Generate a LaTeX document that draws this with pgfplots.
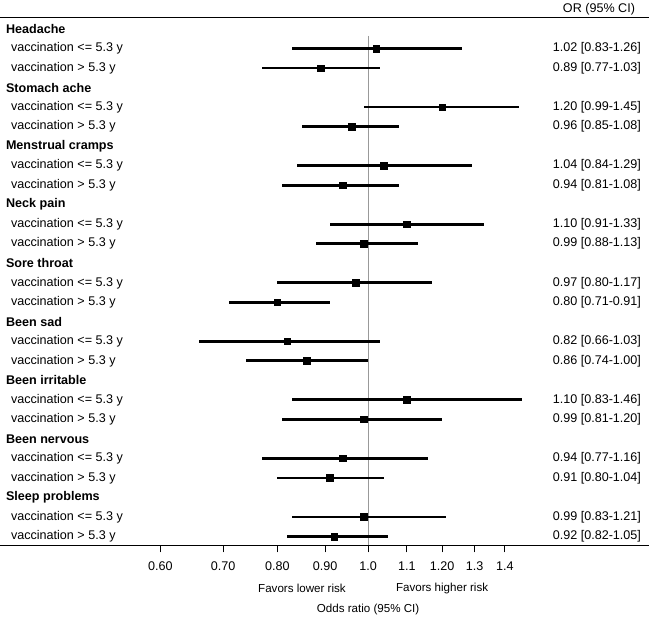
\documentclass[border=0pt]{standalone}
\usepackage{fontspec}
\setmainfont{Liberation Sans}
\usepackage{pgfplots}
\usepackage{pgfplotstable}
\pgfplotsset{compat=1.18}

% row (0 = first heading, rows run downwards), odds ratio, CI bounds
\pgfplotstableread{
row or lo hi
1 1.02 0.83 1.26
2 0.89 0.77 1.03
4 1.20 0.99 1.45
5 0.96 0.85 1.08
7 1.04 0.84 1.29
8 0.94 0.81 1.08
10 1.10 0.91 1.33
11 0.99 0.88 1.13
13 0.97 0.80 1.17
14 0.80 0.71 0.91
16 0.82 0.66 1.03
17 0.86 0.74 1.00
19 1.10 0.83 1.46
20 0.99 0.81 1.20
22 0.94 0.77 1.16
23 0.91 0.80 1.04
25 0.99 0.83 1.21
26 0.92 0.82 1.05
}\ORdata

\newcommand{\fs}{\fontsize{12.6}{15}\selectfont}
\newcommand{\fss}{\fontsize{11.6}{14}\selectfont}

\begin{document}
\begin{tikzpicture}
\begin{axis}[
    scale only axis,
    width=649pt, height=529pt,
    xmode=log,
    xmin=0.4048, xmax=1.994,
    ymin=-0.61, ymax=26.46,
    y dir=reverse,
    clip=false,
    axis x line*=bottom,
    axis y line=none,
    axis line style={line width=1pt},
    xtick={0.6,0.7,0.8,0.9,1.0,1.1,1.2,1.3,1.4},
    xticklabels={0.60,0.70,0.80,0.90,1.0,1.1,1.20,1.3,1.4},
    minor xtick={},
    tick align=outside,
    major tick length=7pt,
    tick style={line width=1pt,black},
    xticklabel style={font=\fs, yshift=-6pt},
    ytick=\empty,
]
% top rule
\draw[line width=1pt] (axis cs:0.4048,-0.61) -- (axis cs:1.994,-0.61);
% line of no effect
\addplot[gray!80, line width=0.9pt] coordinates {(1,0.35) (1,26.46)};

\addplot[only marks, black, mark=square*, mark size=3.3pt,
    error bars/.cd, x dir=both, x explicit, error mark=none,
    error bar style={line width=2.7pt, black}]
    table[x=or, y=row,
          x error plus expr=\thisrow{hi}-\thisrow{or},
          x error minus expr=\thisrow{or}-\thisrow{lo}] {\ORdata};

% headings
\node[anchor=west, font=\fs\bfseries, xshift=2pt] at (axis cs:0.4048,0) {Headache};
\node[anchor=west, font=\fs\bfseries, xshift=2pt] at (axis cs:0.4048,3) {Stomach ache};
\node[anchor=west, font=\fs\bfseries, xshift=2pt] at (axis cs:0.4048,6) {Menstrual cramps};
\node[anchor=west, font=\fs\bfseries, xshift=2pt] at (axis cs:0.4048,9) {Neck pain};
\node[anchor=west, font=\fs\bfseries, xshift=2pt] at (axis cs:0.4048,12) {Sore throat};
\node[anchor=west, font=\fs\bfseries, xshift=2pt] at (axis cs:0.4048,15) {Been sad};
\node[anchor=west, font=\fs\bfseries, xshift=2pt] at (axis cs:0.4048,18) {Been irritable};
\node[anchor=west, font=\fs\bfseries, xshift=2pt] at (axis cs:0.4048,21) {Been nervous};
\node[anchor=west, font=\fs\bfseries, xshift=2pt] at (axis cs:0.4048,24) {Sleep problems};
\pgfplotsinvokeforeach{0,...,8}{
  \node[anchor=west, font=\fs, xshift=7pt] at (axis cs:0.4048,{3*#1+1}) {vaccination <= 5.3 y};
  \node[anchor=west, font=\fs, xshift=7pt] at (axis cs:0.4048,{3*#1+2}) {vaccination > 5.3 y};
}

% OR text column
\node[anchor=east, font=\fs, xshift=-10pt] at (axis cs:1.994,-1.02) {OR (95\% CI)};
\node[anchor=east, font=\fs, xshift=-4pt] at (axis cs:1.994,1) {1.02 [0.83-1.26]};
\node[anchor=east, font=\fs, xshift=-4pt] at (axis cs:1.994,2) {0.89 [0.77-1.03]};
\node[anchor=east, font=\fs, xshift=-4pt] at (axis cs:1.994,4) {1.20 [0.99-1.45]};
\node[anchor=east, font=\fs, xshift=-4pt] at (axis cs:1.994,5) {0.96 [0.85-1.08]};
\node[anchor=east, font=\fs, xshift=-4pt] at (axis cs:1.994,7) {1.04 [0.84-1.29]};
\node[anchor=east, font=\fs, xshift=-4pt] at (axis cs:1.994,8) {0.94 [0.81-1.08]};
\node[anchor=east, font=\fs, xshift=-4pt] at (axis cs:1.994,10) {1.10 [0.91-1.33]};
\node[anchor=east, font=\fs, xshift=-4pt] at (axis cs:1.994,11) {0.99 [0.88-1.13]};
\node[anchor=east, font=\fs, xshift=-4pt] at (axis cs:1.994,13) {0.97 [0.80-1.17]};
\node[anchor=east, font=\fs, xshift=-4pt] at (axis cs:1.994,14) {0.80 [0.71-0.91]};
\node[anchor=east, font=\fs, xshift=-4pt] at (axis cs:1.994,16) {0.82 [0.66-1.03]};
\node[anchor=east, font=\fs, xshift=-4pt] at (axis cs:1.994,17) {0.86 [0.74-1.00]};
\node[anchor=east, font=\fs, xshift=-4pt] at (axis cs:1.994,19) {1.10 [0.83-1.46]};
\node[anchor=east, font=\fs, xshift=-4pt] at (axis cs:1.994,20) {0.99 [0.81-1.20]};
\node[anchor=east, font=\fs, xshift=-4pt] at (axis cs:1.994,22) {0.94 [0.77-1.16]};
\node[anchor=east, font=\fs, xshift=-4pt] at (axis cs:1.994,23) {0.91 [0.80-1.04]};
\node[anchor=east, font=\fs, xshift=-4pt] at (axis cs:1.994,25) {0.99 [0.83-1.21]};
\node[anchor=east, font=\fs, xshift=-4pt] at (axis cs:1.994,26) {0.92 [0.82-1.05]};

% bottom annotations
\node[font=\fss] at (axis cs:0.85,28.65) {Favors lower risk};
\node[font=\fss] at (axis cs:1.2,28.65) {Favors higher risk};
\node[font=\fss] at (axis cs:1.0,29.75) {Odds ratio (95\% CI)};

% fix the page to the reference's extent
\path (axis cs:0.4048,-1.38) -- (axis cs:1.994,30.22);
\end{axis}
\end{tikzpicture}
\end{document}
